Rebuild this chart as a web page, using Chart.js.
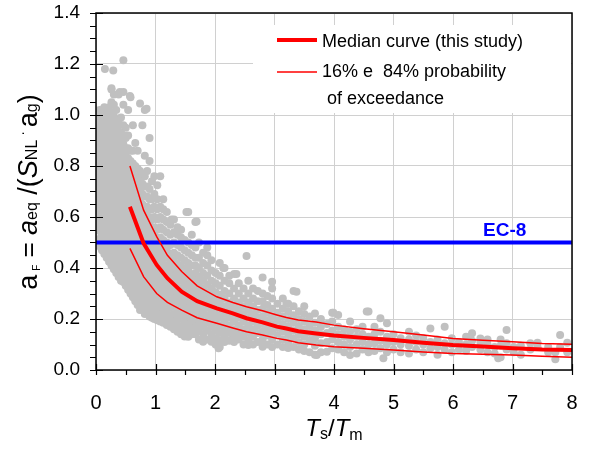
<!DOCTYPE html>
<html>
<head>
<meta charset="utf-8">
<script src="https://cdn.jsdelivr.net/npm/chart.js@4.4.1/dist/chart.umd.min.js"></script>
<style>
  html, body { margin: 0; padding: 0; background: #fff; }
  #wrap { width: 595px; height: 449px; }
</style>
</head>
<body>
<div id="wrap"><canvas id="chart" width="595" height="449"></canvas></div>
<script>
const xTicks = [0, 1, 2, 3, 4, 5, 6, 7, 8];
const yTicks = [0, 0.2, 0.4, 0.6, 0.8, 1.0, 1.2, 1.4];

// curves: x positions and values
const curveX = [0.57, 0.8, 1.02, 1.2, 1.44, 1.7, 2.03, 2.3, 2.53, 2.8, 3.04, 3.2, 3.4, 3.7, 4.0, 4.5, 5.0, 5.5, 6.0, 6.5, 7.0, 7.5, 8.0];
const medianY = [0.64, 0.497, 0.412, 0.36, 0.307, 0.27, 0.242, 0.222, 0.203, 0.187, 0.170, 0.163, 0.152, 0.143, 0.135, 0.126, 0.118, 0.107, 0.098, 0.092, 0.085, 0.080, 0.078];
const upperY = [0.80, 0.627, 0.523, 0.45, 0.386, 0.33, 0.287, 0.265, 0.248, 0.232, 0.216, 0.206, 0.196, 0.188, 0.176, 0.162, 0.150, 0.137, 0.124, 0.117, 0.111, 0.104, 0.101];
const lowerY = [0.477, 0.366, 0.30, 0.265, 0.235, 0.205, 0.183, 0.165, 0.150, 0.137, 0.124, 0.118, 0.107, 0.098, 0.091, 0.085, 0.078, 0.071, 0.065, 0.062, 0.059, 0.054, 0.050];

const ec8X = [0, 8];
const ec8Y = [0.5, 0.5];

// scatter cloud, column by column (x, list of y)
const cloudCols = [
  [0.02, [0.57,0.60,0.63,0.66,0.69,0.72,0.75,0.78,0.81,0.84,0.87,0.90,0.93,0.96,0.98]],
  [0.06, [0.485,0.515,0.545,0.575,0.605,0.635,0.665,0.695,0.725,0.755,0.785,0.815,0.845,0.875,0.905,0.935,0.965,0.995,1.02]],
  [0.10, [0.47,0.50,0.53,0.56,0.59,0.62,0.65,0.68,0.71,0.74,0.77,0.80,0.83,0.86,0.89,0.92,0.95,0.98,1.01]],
  [0.14, [0.455,0.485,0.515,0.545,0.575,0.605,0.635,0.665,0.695,0.725,0.755,0.785,0.815,0.845,0.875,0.905,0.935,0.965,0.995,1.03]],
  [0.18, [0.44,0.47,0.50,0.53,0.56,0.59,0.62,0.65,0.68,0.71,0.74,0.77,0.80,0.83,0.86,0.89,0.92,0.95,0.98,1.01]],
  [0.22, [0.425,0.455,0.485,0.515,0.545,0.575,0.605,0.635,0.665,0.695,0.725,0.755,0.785,0.815,0.845,0.875,0.905,0.935,0.965,0.995,1.03]],
  [0.26, [0.41,0.44,0.47,0.50,0.53,0.56,0.59,0.62,0.65,0.68,0.71,0.74,0.77,0.80,0.83,0.86,0.89,0.92,0.95,0.98,1.01,1.05,1.10]],
  [0.30, [0.395,0.425,0.455,0.485,0.515,0.545,0.575,0.605,0.635,0.665,0.695,0.725,0.755,0.785,0.815,0.845,0.875,0.905,0.935,0.965,0.995,1.04,1.08]],
  [0.34, [0.38,0.41,0.44,0.47,0.50,0.53,0.56,0.59,0.62,0.65,0.68,0.71,0.74,0.77,0.80,0.83,0.86,0.89,0.92,0.95,0.98,1.02]],
  [0.38, [0.365,0.395,0.425,0.455,0.485,0.515,0.545,0.575,0.605,0.635,0.665,0.695,0.725,0.755,0.785,0.815,0.845,0.875,0.905,0.935,0.97,1.08]],
  [0.42, [0.35,0.38,0.41,0.44,0.47,0.50,0.53,0.56,0.59,0.62,0.65,0.68,0.71,0.74,0.77,0.80,0.83,0.86,0.89,0.93,0.99]],
  [0.46, [0.345,0.375,0.405,0.435,0.465,0.495,0.525,0.555,0.585,0.615,0.645,0.675,0.705,0.735,0.765,0.795,0.825,0.855,0.885,0.92,0.96,1.04,1.09]],
  [0.50, [0.33,0.36,0.39,0.42,0.45,0.48,0.51,0.54,0.57,0.60,0.63,0.66,0.69,0.72,0.75,0.78,0.81,0.84,0.87,0.91,0.95]],
  [0.54, [0.315,0.345,0.375,0.405,0.435,0.465,0.495,0.525,0.555,0.585,0.615,0.645,0.675,0.705,0.735,0.765,0.795,0.83,0.87,0.92,1.02]],
  [0.58, [0.30,0.33,0.36,0.39,0.42,0.45,0.48,0.51,0.54,0.57,0.60,0.63,0.66,0.69,0.72,0.75,0.78,0.82,0.86,1.07]],
  [0.62, [0.285,0.315,0.345,0.375,0.405,0.435,0.465,0.495,0.525,0.555,0.585,0.615,0.645,0.675,0.705,0.735,0.77,0.81,0.86,0.96]],
  [0.66, [0.27,0.30,0.33,0.36,0.39,0.42,0.45,0.48,0.51,0.54,0.57,0.60,0.63,0.66,0.69,0.72,0.76,0.80,0.89]],
  [0.70, [0.255,0.285,0.315,0.345,0.375,0.405,0.435,0.465,0.495,0.525,0.555,0.585,0.615,0.645,0.675,0.71,0.75,0.79,0.86]],
  [0.74, [0.235,0.27,0.30,0.33,0.36,0.39,0.42,0.45,0.48,0.51,0.54,0.57,0.60,0.63,0.66,0.70,0.74,0.78,1.045]],
  [0.78, [0.24,0.255,0.285,0.315,0.345,0.375,0.405,0.435,0.465,0.495,0.525,0.555,0.585,0.615,0.65,0.69,0.73,0.77,0.96]],
  [0.82, [0.22,0.25,0.28,0.31,0.34,0.37,0.40,0.43,0.46,0.49,0.52,0.55,0.58,0.61,0.64,0.68,0.72,0.76,0.84,1.02]],
  [0.86, [0.225,0.235,0.265,0.295,0.325,0.355,0.385,0.415,0.445,0.475,0.505,0.535,0.565,0.60,0.64,0.68,0.72,0.78]],
  [0.90, [0.21,0.24,0.27,0.30,0.33,0.36,0.39,0.42,0.45,0.48,0.51,0.54,0.57,0.60,0.63,0.67,0.71,0.82,0.91]],
  [0.94, [0.205,0.225,0.255,0.285,0.315,0.345,0.375,0.405,0.435,0.465,0.495,0.525,0.555,0.59,0.63,0.67,0.74]],
  [0.98, [0.20,0.23,0.26,0.29,0.32,0.35,0.38,0.41,0.44,0.47,0.50,0.53,0.56,0.60,0.64,0.69,0.76]],
  [1.03, [0.195,0.215,0.245,0.275,0.305,0.335,0.365,0.395,0.425,0.455,0.485,0.515,0.55,0.59,0.63,0.67,0.725]],
  [1.08, [0.19,0.22,0.25,0.28,0.31,0.34,0.37,0.40,0.43,0.46,0.49,0.52,0.56,0.60,0.64,0.76]],
  [1.13, [0.185,0.205,0.235,0.265,0.295,0.325,0.355,0.385,0.415,0.445,0.475,0.51,0.55,0.59,0.63,0.67]],
  [1.19, [0.176,0.20,0.23,0.26,0.29,0.32,0.35,0.38,0.41,0.44,0.47,0.50,0.54,0.58,0.62]],
  [1.25, [0.17,0.185,0.215,0.245,0.275,0.305,0.335,0.365,0.395,0.425,0.455,0.49,0.53,0.57]],
  [1.31, [0.16,0.19,0.22,0.25,0.28,0.31,0.34,0.37,0.40,0.43,0.46,0.50,0.54,0.59]],
  [1.37, [0.15,0.175,0.205,0.235,0.265,0.295,0.325,0.355,0.385,0.415,0.45,0.49,0.53,0.56]],
  [1.43, [0.14,0.17,0.20,0.23,0.26,0.29,0.32,0.35,0.38,0.41,0.44,0.48,0.52,0.55]],
  [1.49, [0.131,0.16,0.185,0.215,0.245,0.275,0.305,0.335,0.365,0.395,0.43,0.47,0.51]],
  [1.55, [0.13,0.15,0.18,0.21,0.24,0.27,0.30,0.33,0.36,0.39,0.42,0.46,0.50,0.62]],
  [1.61, [0.14,0.165,0.195,0.225,0.255,0.285,0.315,0.345,0.375,0.41,0.45,0.49,0.53]],
  [1.67, [0.14,0.17,0.20,0.23,0.26,0.29,0.32,0.35,0.38,0.41,0.44,0.48,0.58]],
  [1.73, [0.12,0.155,0.185,0.215,0.245,0.275,0.305,0.335,0.365,0.40,0.44,0.50]],
  [1.80, [0.111,0.14,0.17,0.20,0.23,0.26,0.29,0.32,0.35,0.38,0.42,0.46]],
  [1.87, [0.12,0.155,0.185,0.215,0.245,0.275,0.305,0.335,0.37,0.41,0.45,0.48]],
  [1.94, [0.111,0.14,0.17,0.20,0.23,0.26,0.29,0.32,0.35,0.39,0.43]],
  [2.01, [0.10,0.125,0.155,0.185,0.215,0.245,0.275,0.305,0.34,0.38]],
  [2.08, [0.09,0.115,0.145,0.175,0.205,0.235,0.265,0.295,0.33,0.37,0.42]],
  [2.16, [0.11,0.13,0.16,0.19,0.22,0.25,0.28,0.31,0.35,0.40]],
  [2.24, [0.115,0.145,0.175,0.205,0.235,0.265,0.30,0.34,0.37]],
  [2.32, [0.11,0.13,0.16,0.19,0.22,0.25,0.28,0.32,0.376]],
  [2.40, [0.12,0.145,0.175,0.205,0.235,0.265,0.30,0.34]],
  [2.48, [0.10,0.13,0.16,0.19,0.22,0.25,0.28,0.32]],
  [2.56, [0.098,0.115,0.145,0.175,0.205,0.235,0.265,0.30,0.35]],
  [2.64, [0.10,0.13,0.16,0.19,0.22,0.25,0.28,0.32]],
  [2.72, [0.11,0.145,0.175,0.205,0.235,0.27,0.31]],
  [2.80, [0.091,0.12,0.15,0.18,0.21,0.24,0.27,0.30,0.363]],
  [2.88, [0.10,0.135,0.165,0.195,0.225,0.255,0.29]],
  [2.96, [0.09,0.12,0.15,0.18,0.21,0.24,0.28,0.346,0.32]],
  [3.05, [0.10,0.135,0.165,0.195,0.225,0.26]],
  [3.14, [0.09,0.12,0.15,0.18,0.21,0.24,0.28]],
  [3.23, [0.086,0.11,0.14,0.17,0.20,0.23,0.26]],
  [3.32, [0.09,0.125,0.155,0.185,0.215,0.25,0.31]],
  [3.41, [0.08,0.11,0.14,0.17,0.20,0.23]],
  [3.50, [0.075,0.10,0.13,0.16,0.19,0.22,0.25]],
  [3.59, [0.07,0.115,0.145,0.175,0.21]],
  [3.68, [0.06,0.095,0.125,0.155,0.185,0.222]],
  [3.78, [0.07,0.105,0.14,0.17,0.20]],
  [3.88, [0.072,0.11,0.145,0.18]],
  [3.97, [0.085,0.12,0.155,0.19,0.225]],
  [4.07, [0.08,0.11,0.14,0.17,0.216]],
  [4.17, [0.07,0.10,0.13,0.16]],
  [4.27, [0.059,0.09,0.12,0.15,0.19]],
  [4.38, [0.065,0.10,0.13,0.16]],
  [4.48, [0.08,0.11,0.14,0.17]],
  [4.58, [0.07,0.10,0.13,0.229]],
  [4.68, [0.075,0.105,0.14,0.17]],
  [4.78, [0.085,0.115,0.15,0.203]],
  [4.89, [0.07,0.10,0.13,0.183]],
  [5.00, [0.08,0.11,0.14]],
  [5.12, [0.07,0.10,0.125]],
  [5.26, [0.065,0.095,0.12,0.15]],
  [5.38, [0.08,0.11,0.135]],
  [5.50, [0.07,0.10,0.125]],
  [5.62, [0.085,0.11,0.163]],
  [5.74, [0.06,0.09,0.12]],
  [5.86, [0.08,0.105,0.17]],
  [5.98, [0.07,0.10,0.125]],
  [6.10, [0.08,0.11]],
  [6.22, [0.075,0.10,0.13]],
  [6.32, [0.09,0.115,0.144]],
  [6.46, [0.08,0.11,0.124]],
  [6.58, [0.07,0.10,0.12]],
  [6.70, [0.065,0.09]],
  [6.80, [0.05,0.095,0.12]],
  [6.90, [0.08,0.105,0.157]],
  [7.02, [0.07,0.09]],
  [7.14, [0.06,0.095]],
  [7.30, [0.08,0.105]],
  [7.42, [0.09,0.107]],
  [7.60, [0.07,0.09]],
  [7.72, [0.042,0.07]],
  [7.80, [0.09,0.137]],
  [7.92, [0.07,0.107]]
];

// isolated points outside the main cloud
const outlierX = [0.15, 0.29, 0.46, 0.26, 0.40, 0.57, 0.85, 1.27, 1.52, 1.69, 2.53, 2.14, 2.36, 3.37, 3.20, 3.99, 4.55, 6.76, 4.83, 0.88, 2.06, 3.71];
const outlierY = [1.18, 1.175, 1.215, 1.105, 1.09, 1.075, 1.025, 0.59, 0.62, 0.582, 0.447, 0.40, 0.376, 0.307, 0.26, 0.225, 0.229, 0.046, 0.046, 0.225, 0.085, 0.059];

const FONT = "'Liberation Sans', Arial, sans-serif";

const cloud = [];
cloudCols.forEach(([x, ys]) => ys.forEach(y => cloud.push({ x: x, y: y })));
outlierX.forEach((x, i) => cloud.push({ x: x, y: outlierY[i] }));

const toXY = (xs, ys) => xs.map((x, i) => ({ x: x, y: ys[i] }));

function drawRich(ctx, parts, x, y, align) {
    // parts: [text, size, italic, dy]
    let total = 0;
    parts.forEach(p => {
        ctx.font = (p[2] ? "italic " : "") + p[1] + "px " + FONT;
        total += ctx.measureText(p[0]).width;
    });
    let cx = align === "center" ? x - total / 2 : x;
    parts.forEach(p => {
        ctx.font = (p[2] ? "italic " : "") + p[1] + "px " + FONT;
        ctx.fillText(p[0], cx, y + (p[3] || 0));
        cx += ctx.measureText(p[0]).width;
    });
}

const decorPlugin = {
    id: "decor",
    beforeDatasetsDraw(chart) {
        const ctx = chart.ctx;
        // white legend box hiding grid lines
        ctx.save();
        ctx.fillStyle = "#fff";
        ctx.fillRect(253, 25, 318, 88);
        ctx.restore();
    },
    afterDraw(chart) {
        const ctx = chart.ctx;
        const a = chart.chartArea;
        const xs = chart.scales.x, ys = chart.scales.y;
        ctx.save();
        // frame
        ctx.strokeStyle = "#000";
        ctx.lineWidth = 1.5;
        ctx.strokeRect(a.left, a.top, a.right - a.left, a.bottom - a.top);

        // tick marks
        ctx.lineWidth = 1.2;
        ctx.beginPath();
        for (let v = 0; v <= 1.4001; v += 0.05) {
            const py = Math.round(ys.getPixelForValue(v)) + 0.5;
            const major = Math.abs(v / 0.2 - Math.round(v / 0.2)) < 1e-6;
            ctx.moveTo(a.left - 6, py);
            ctx.lineTo(a.left + (major ? 7 : 0), py);
        }
        for (let v = 0; v <= 8.001; v += 0.5) {
            const px = Math.round(xs.getPixelForValue(v)) + 0.5;
            const major = Math.abs(v - Math.round(v)) < 1e-6;
            ctx.moveTo(px, a.bottom + 5);
            ctx.lineTo(px, a.bottom - (major ? 6 : 0));
        }
        ctx.stroke();

        // legend
        ctx.strokeStyle = "#ff0000";
        ctx.lineWidth = 4;
        ctx.beginPath(); ctx.moveTo(277, 40); ctx.lineTo(317, 40); ctx.stroke();
        ctx.lineWidth = 1.5;
        ctx.beginPath(); ctx.moveTo(277, 72); ctx.lineTo(317, 72); ctx.stroke();
        ctx.fillStyle = "#000";
        ctx.textBaseline = "alphabetic";
        ctx.font = "18px " + FONT;
        ctx.fillText("Median curve (this study)", 322, 47);
        ctx.fillText("16% e  84% probability", 322, 77);
        ctx.fillText("of exceedance", 327, 104);

        // EC-8 label
        ctx.fillStyle = "#0000ff";
        ctx.font = "bold 19px " + FONT;
        ctx.fillText("EC-8", 483, 236);

        // x title
        ctx.fillStyle = "#000";
        drawRich(ctx, [["T", 24, true, 0], ["s", 16, false, 3], ["/", 24, false, 0], ["T", 24, true, 0], ["m", 16, false, 4]],
            (a.left + a.right) / 2, 436, "center");

        // y title (rotated)
        ctx.translate(37, 192);
        ctx.rotate(-Math.PI / 2);
        drawRich(ctx, [
            ["a", 27, false, 0], [" ", 14, false, 0], ["F", 10, false, 3], [" = ", 26, false, 0],
            ["a", 27, true, 0], ["eq", 16, false, 0], [" /(", 27, false, 0], ["S", 27, true, 0],
            ["NL", 16, false, 0], [" \u00b7 ", 14, false, -10], ["a", 27, false, 0], ["g", 16, false, 0], [")", 27, false, 0]
        ], 0, 0, "center");
        ctx.restore();
    }
};

new Chart(document.getElementById("chart"), {
    type: "scatter",
    data: {
        datasets: [
            {
                label: "Median curve (this study)",
                type: "line",
                data: toXY(curveX, medianY),
                borderColor: "#ff0000",
                borderWidth: 4,
                pointRadius: 0,
                fill: false,
                tension: 0,
                order: 0
            },
            {
                label: "16%",
                type: "line",
                data: toXY(curveX, upperY),
                borderColor: "#ff0000",
                borderWidth: 1.5,
                pointRadius: 0,
                fill: false,
                order: 1
            },
            {
                label: "84%",
                type: "line",
                data: toXY(curveX, lowerY),
                borderColor: "#ff0000",
                borderWidth: 1.5,
                pointRadius: 0,
                fill: false,
                order: 1
            },
            {
                label: "EC-8",
                type: "line",
                data: toXY(ec8X, ec8Y),
                borderColor: "#0000ff",
                borderWidth: 4,
                pointRadius: 0,
                fill: false,
                order: 2
            },
            {
                label: "data",
                data: cloud,
                backgroundColor: "#c0c0c0",
                borderWidth: 0,
                pointRadius: 4,
                order: 3
            }
        ]
    },
    options: {
        responsive: false,
        animation: false,
        layout: { padding: { top: 13, right: 23, left: 0, bottom: 0 } },
        plugins: { legend: { display: false }, tooltip: { enabled: false } },
        scales: {
            x: {
                type: "linear",
                min: 0, max: 8,
                afterFit: s => { s.height = 79; s.paddingLeft = 0; s.paddingRight = 0; },
                afterBuildTicks: s => { s.ticks = xTicks.map(v => ({ value: v })); },
                grid: { color: "#d0d0d0", lineWidth: 1, drawTicks: false },
                border: { display: false },
                ticks: { color: "#000", padding: 21, font: { family: FONT, size: 20 }, callback: v => String(v) }
            },
            y: {
                type: "linear",
                min: 0, max: 1.4,
                afterFit: s => { s.width = 96; s.paddingTop = 0; s.paddingBottom = 0; },
                afterBuildTicks: s => { s.ticks = yTicks.map(v => ({ value: v })); },
                grid: { color: "#d0d0d0", lineWidth: 1, drawTicks: false },
                border: { display: false },
                ticks: { color: "#000", padding: 16, font: { family: FONT, size: 19 }, callback: v => v.toFixed(1) }
            }
        }
    },
    plugins: [decorPlugin]
});
</script>
</body>
</html>
